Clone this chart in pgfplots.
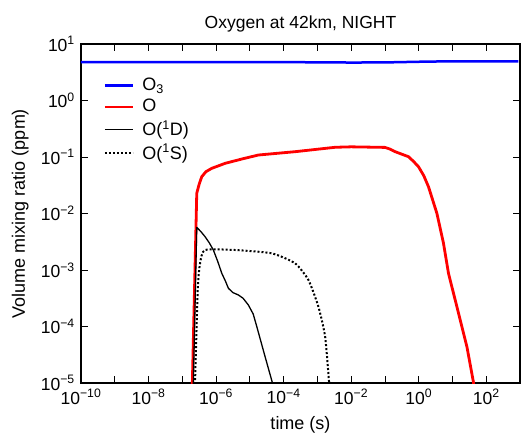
\documentclass[border=0pt]{standalone}
\usepackage{fontspec}
\setmainfont{Liberation Sans}
\usepackage{pgfplots}
\pgfplotsset{compat=1.18}
\begin{document}
\fontsize{18}{21}\selectfont
\begin{tikzpicture}
\begin{axis}[
  scale only axis, width=439pt, height=339pt,
  xmode=log, ymode=log, log basis x=10, log basis y=10,
  xmin=1e-10, xmax=1e3, ymin=1e-5, ymax=1e1,
  xtick={1e-10,1e-9,1e-8,1e-7,1e-6,1e-5,1e-4,1e-3,1e-2,1e-1,1e0,1e1,1e2,1e3},
  xticklabels={10\textsuperscript{−10},{},10\textsuperscript{−8},{},10\textsuperscript{−6},{},10\textsuperscript{−4},{},10\textsuperscript{−2},{},10\textsuperscript{0},{},10\textsuperscript{2},{}},
  minor xtick={},
  ytick={1e-5,1e-4,1e-3,1e-2,1e-1,1e0,1e1},
  yticklabels={10\textsuperscript{−5},10\textsuperscript{−4},10\textsuperscript{−3},10\textsuperscript{−2},10\textsuperscript{−1},10\textsuperscript{0},10\textsuperscript{1}},
  tick label style={font=\fontsize{17.5}{20}\selectfont},
  tick align=inside,
  major tick length=7pt, minor tick length=4pt,
  every tick/.style={black, line width=0.8pt},
  axis line style={line width=1.3pt},
  title={Oxygen at 42km, NIGHT},
  title style={font=\fontsize{17.5}{20}\selectfont},
  xlabel={time (s)},
  ylabel={Volume mixing ratio (ppm)},
  label style={font=\fontsize{18}{21}\selectfont},
  legend style={draw=none, fill=none, at={(0.044,0.912)}, anchor=north west, row sep=2pt,
    column sep=6pt, font=\fontsize{18}{21}\selectfont},
  legend cell align=left,
  legend image code/.code={\draw[#1] (-11pt,0pt) -- (17pt,0pt);},
]
\addplot[blue, line width=2.5pt] coordinates {
(1e-10,4.8) (1e-6,4.8) (1e-4,4.78) (1e-2,4.7) (1e-1,4.72) (1e0,4.85) (1e1,4.95) (1e2,4.95) (9e2,4.95)};
\addlegendentry{O\textsubscript{3}}
\addplot[red, line width=2.8pt, line join=round] coordinates {
(1.93e-7,5e-6) (1.986e-7,1.01e-5) (2.679e-7,2.28e-2) (3.162e-7,3.311e-2) (3.767e-7,4.477e-2)
(5.012e-7,5.495e-2) (7.464e-7,6.31e-2) (1.259e-6,7.079e-2)
(1.849e-6,7.727e-2) (6.31e-6,9.33e-2) (1.791e-5,0.1084) (2.193e-4,0.1242) (3.357e-3,0.1486) (1e-2,0.1514)
(1e-1,0.1479) (0.1413,0.138) (0.2014,0.1242) (0.4989,0.1012) (0.708,0.0832) (0.9863,0.0673) (1.413,0.0468)
(1.950,0.02979) (3.459,0.01007)
(5.433,2.965e-3) (7.638,8.73e-4) (10.74,3.873e-4) (16.98,1.303e-4) (26.79,4.395e-5) (42.07,1.014e-5) (44.7,5e-6)};
\addlegendentry{O}
\addplot[black, line width=1.3pt, line join=round] coordinates {
(2.070e-7,5e-6) (2.679e-7,5.689e-3) (3.548e-7,4.786e-3) (4.721e-7,3.890e-3) (6.31e-7,3.02e-3)
(8.318e-7,2.259e-3) (1.122e-6,1.413e-3) (1.476e-6,8.75e-4) (1.905e-6,6.31e-4)
(2.317e-6,4.742e-4) (3.162e-6,3.98e-4) (4.581e-6,3.614e-4) (6.31e-6,3.162e-4) (9.06e-6,2.399e-4)
(1.259e-5,1.66e-4) (1.603e-5,1e-4) (2.831e-5,2.917e-5)
(4.656e-5,1.01e-5) (6.46e-5,5e-6)};
\addlegendentry{O(\textsuperscript{1}D)}
\addplot[black, line width=2pt, dash pattern=on 2pt off 2pt, smooth, tension=0.35] coordinates {
(2.307e-7,5e-6) (2.864e-7,4.426e-4) (3.357e-7,1.312e-3) (4.721e-7,2.259e-3) (3.656e-6,2.259e-3)
(4.467e-5,1.972e-3) (2.193e-4,1.312e-3) (5.433e-4,6.653e-4) (1.074e-3,2.239e-4) (1.698e-3,6.607e-5)
(2.228e-3,1.01e-5) (2.466e-3,5e-6)};
\addlegendentry{O(\textsuperscript{1}S)}
\end{axis}
\pgfresetboundingbox
\path (current axis.south west) ++(-81pt,-56pt) rectangle ++(525pt,439pt);
\end{tikzpicture}
\end{document}
